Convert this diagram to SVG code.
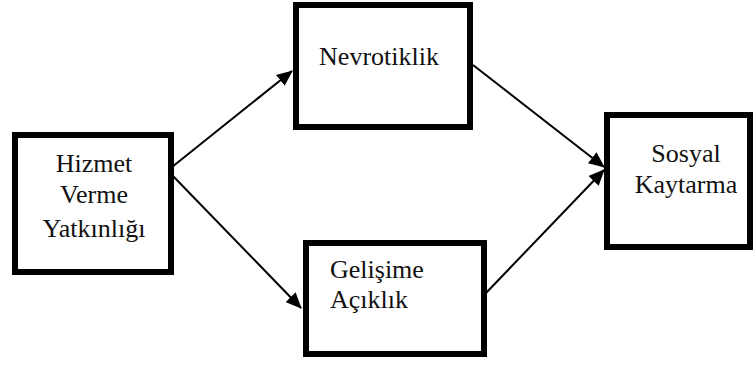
<svg xmlns="http://www.w3.org/2000/svg" width="756" height="369" viewBox="0 0 756 369">
  <style>
    .box { fill: #ffffff; stroke: #000000; stroke-width: 6; }
    .lbl { font-family: 'Liberation Serif', 'Times New Roman', 'DejaVu Serif', serif; font-size: 26px; fill: #111111; }
    .conn { stroke: #000000; stroke-width: 2; fill: none; marker-end: url(#arrow); }
  </style>
  <defs>
    <marker id="arrow" markerWidth="8" markerHeight="7" refX="7.5" refY="3.5" orient="auto" markerUnits="strokeWidth">
      <path d="M0,0 L8,3.5 L0,7 Z" fill="#000000"/>
    </marker>
  </defs>
  <rect width="756" height="369" fill="#ffffff"/>
  <g id="connectors">
    <line class="conn" x1="172" y1="167" x2="292" y2="71"/>
    <line class="conn" x1="172" y1="175" x2="301" y2="308"/>
    <line class="conn" x1="473" y1="65" x2="604" y2="167"/>
    <line class="conn" x1="486" y1="293" x2="604" y2="170"/>
  </g>
  <g id="node-hizmet" font-family="Liberation Serif, serif">
    <rect class="box" x="15" y="135" width="156" height="137"/>
    <text class="lbl" text-anchor="middle" x="94" y="172">Hizmet</text>
    <text class="lbl" text-anchor="middle" x="94" y="203">Verme</text>
    <text class="lbl" text-anchor="middle" x="94" y="237">Yatkınlığı</text>
  </g>
  <g id="node-nevrotiklik" font-family="Liberation Serif, serif">
    <rect class="box" x="296" y="5" width="174" height="122"/>
    <text class="lbl" text-anchor="middle" x="379" y="65">Nevrotiklik</text>
  </g>
  <g id="node-gelisime" font-family="Liberation Serif, serif">
    <rect class="box" x="306" y="243" width="178" height="111"/>
    <text class="lbl" x="330" y="278">Gelişime</text>
    <text class="lbl" x="330" y="308">Açıklık</text>
  </g>
  <g id="node-sosyal" font-family="Liberation Serif, serif">
    <rect class="box" x="607" y="115" width="143" height="132"/>
    <text class="lbl" text-anchor="middle" x="686" y="162">Sosyal</text>
    <text class="lbl" text-anchor="middle" x="686" y="193">Kaytarma</text>
  </g>
</svg>
